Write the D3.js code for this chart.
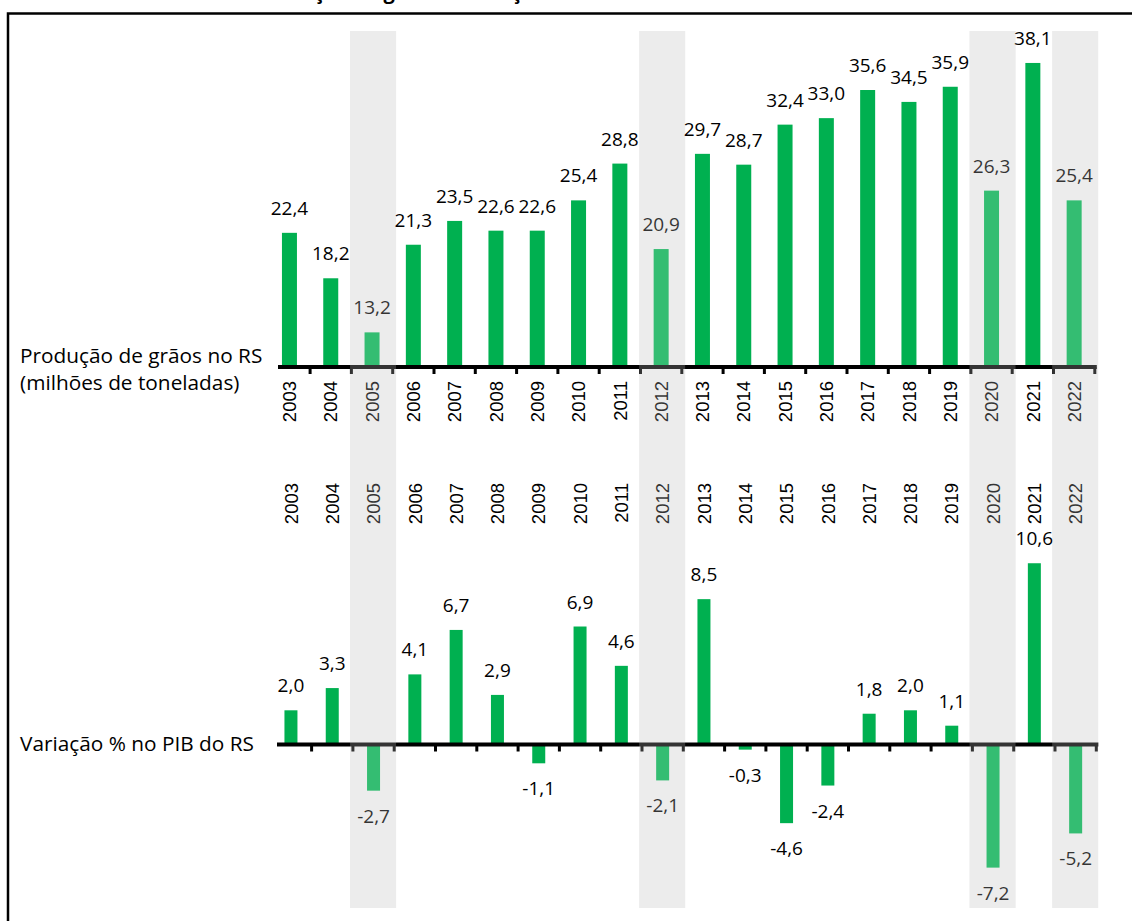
<!DOCTYPE html>
<html>
<head>
<meta charset="utf-8">
<script src="https://cdn.jsdelivr.net/npm/d3@7"></script>
<style>
  body { margin: 0; background: #fff; }
  svg text { font-family: "Open Sans", "Noto Sans", sans-serif; }
</style>
</head>
<body>
<svg id="canvas" width="1132" height="921"></svg>
<script>
let anos = [2003, 2004, 2005, 2006, 2007, 2008, 2009, 2010, 2011, 2012,
  2013, 2014, 2015, 2016, 2017, 2018, 2019, 2020, 2021, 2022];
let graos = [22.4, 18.2, 13.2, 21.3, 23.5, 22.6, 22.6, 25.4, 28.8, 20.9,
  29.7, 28.7, 32.4, 33.0, 35.6, 34.5, 35.9, 26.3, 38.1, 25.4];
let pib = [2.0, 3.3, -2.7, 4.1, 6.7, 2.9, -1.1, 6.9, 4.6, -2.1,
  8.5, -0.3, -4.6, -2.4, 1.8, 2.0, 1.1, -7.2, 10.6, -5.2];
let destaque = [2005, 2012, 2020, 2022];

let verde = "#00b050";
let cinza = "#ececec";

let br = d3.formatLocale({
  decimal: ",", thousands: ".", grouping: [3], currency: ["R$", ""], minus: "-"
});
let fmt = br.format(".1f");

let canvas = d3.select("#canvas");

// moldura
canvas.append("path")
  .attr("d", "M8,940 L8,13.5 L1150,13.5")
  .attr("fill", "none")
  .attr("stroke", "#000")
  .attr("stroke-width", 2.5);

// titulo (cortado no topo, como no original)
canvas.append("text")
  .attr("x", 254)
  .attr("y", -1)
  .attr("font-size", 20)
  .attr("font-weight", "bold")
  .text("Produção de grãos e variação do PIB do RS");

let x1 = d3.scaleBand().domain(anos).range([268.8, 1094.8]);
let x2 = d3.scaleBand().domain(anos).range([270.3, 1096.3]);
let y1 = d3.scaleLinear().domain([10, 40]).range([367, 42.4]);
let y2 = d3.scaleLinear().domain([-8, 12]).range([881.3, 539.3]);

let dadosG = anos.map((a, i) => ({ ano: a, v: graos[i] }));
let dadosP = anos.map((a, i) => ({ ano: a, v: pib[i] }));

// faixas cinza de fundo
canvas.append("g")
  .selectAll("rect")
  .data(destaque)
  .enter()
  .append("rect")
  .attr("x", (a) => x1(a) + x1.bandwidth() / 2 - 22)
  .attr("y", 31)
  .attr("width", 46)
  .attr("height", 877)
  .attr("fill", cinza);

// ---------- producao de graos ----------
let bw1 = 15;
canvas.append("g")
  .selectAll("rect")
  .data(dadosG)
  .enter()
  .append("rect")
  .attr("x", (d) => x1(d.ano) + (x1.bandwidth() - bw1) / 2)
  .attr("y", (d) => y1(d.v))
  .attr("width", bw1)
  .attr("height", (d) => y1(10) - y1(d.v))
  .attr("fill", verde);

canvas.append("g")
  .selectAll("text")
  .data(dadosG)
  .enter()
  .append("text")
  .attr("x", (d) => x1(d.ano) + x1.bandwidth() / 2)
  .attr("y", (d) => y1(d.v) - 18)
  .attr("text-anchor", "middle")
  .attr("font-size", 19)
  .attr("fill", "#000")
  .text((d) => fmt(d.v));

// eixo
canvas.append("line")
  .attr("x1", 278).attr("x2", x1.range()[1] + 2)
  .attr("y1", y1(10)).attr("y2", y1(10))
  .attr("stroke", "#000").attr("stroke-width", 4);
canvas.append("g")
  .selectAll("line")
  .data(anos)
  .enter()
  .append("line")
  .attr("x1", (a) => x1(a) + x1.step())
  .attr("x2", (a) => x1(a) + x1.step())
  .attr("y1", y1(10))
  .attr("y2", y1(10) + 7)
  .attr("stroke", "#000")
  .attr("stroke-width", 3);

canvas.append("g")
  .selectAll("text")
  .data(anos)
  .enter()
  .append("text")
  .attr("transform", (a) => "translate(" + (x1(a) + x1.bandwidth() / 2) + ",381) rotate(-90)")
  .attr("text-anchor", "end")
  .attr("dy", "0.36em")
  .style("font-family", "'Liberation Sans', Arial, sans-serif")
  .attr("font-size", 18.5)
  .text((a) => a);

canvas.append("text")
  .attr("x", 20).attr("y", 363)
  .attr("font-size", 20.8)
  .text("Produção de grãos no RS");
canvas.append("text")
  .attr("x", 20).attr("y", 390)
  .attr("font-size", 20.8)
  .text("(milhões de toneladas)");

// ---------- variacao do PIB ----------
canvas.append("g")
  .selectAll("text")
  .data(anos)
  .enter()
  .append("text")
  .attr("transform", (a) => "translate(" + (x2(a) + x2.bandwidth() / 2) + ",483) rotate(-90)")
  .attr("text-anchor", "end")
  .attr("dy", "0.36em")
  .style("font-family", "'Liberation Sans', Arial, sans-serif")
  .attr("font-size", 18.5)
  .text((a) => a);

let bw2 = 13;
canvas.append("g")
  .selectAll("rect")
  .data(dadosP)
  .enter()
  .append("rect")
  .attr("x", (d) => x2(d.ano) + (x2.bandwidth() - bw2) / 2)
  .attr("y", (d) => Math.min(y2(d.v), y2(0)))
  .attr("width", bw2)
  .attr("height", (d) => Math.abs(y2(d.v) - y2(0)))
  .attr("fill", verde);

canvas.append("g")
  .selectAll("text")
  .data(dadosP)
  .enter()
  .append("text")
  .attr("x", (d) => x2(d.ano) + x2.bandwidth() / 2)
  .attr("y", (d) => (d.v >= 0 ? y2(d.v) - 18 : y2(d.v) + 32))
  .attr("text-anchor", "middle")
  .attr("font-size", 19)
  .attr("fill", "#000")
  .text((d) => fmt(d.v));

canvas.append("line")
  .attr("x1", 277).attr("x2", x2.range()[1] + 2)
  .attr("y1", y2(0)).attr("y2", y2(0))
  .attr("stroke", "#000").attr("stroke-width", 4);
canvas.append("g")
  .selectAll("line")
  .data(anos)
  .enter()
  .append("line")
  .attr("x1", (a) => x2(a) + x2.step())
  .attr("x2", (a) => x2(a) + x2.step())
  .attr("y1", y2(0))
  .attr("y2", y2(0) + 7)
  .attr("stroke", "#000")
  .attr("stroke-width", 3);

canvas.append("text")
  .attr("x", 20).attr("y", 751)
  .attr("font-size", 20.8)
  .text("Variação % no PIB do RS");

// faixas cinza por cima (transparentes)
canvas.append("g")
  .selectAll("rect")
  .data(destaque)
  .enter()
  .append("rect")
  .attr("x", (a) => x1(a) + x1.bandwidth() / 2 - 22)
  .attr("y", 31)
  .attr("width", 46)
  .attr("height", 877)
  .attr("fill", cinza)
  .attr("opacity", 0.22);
</script>
</body>
</html>
